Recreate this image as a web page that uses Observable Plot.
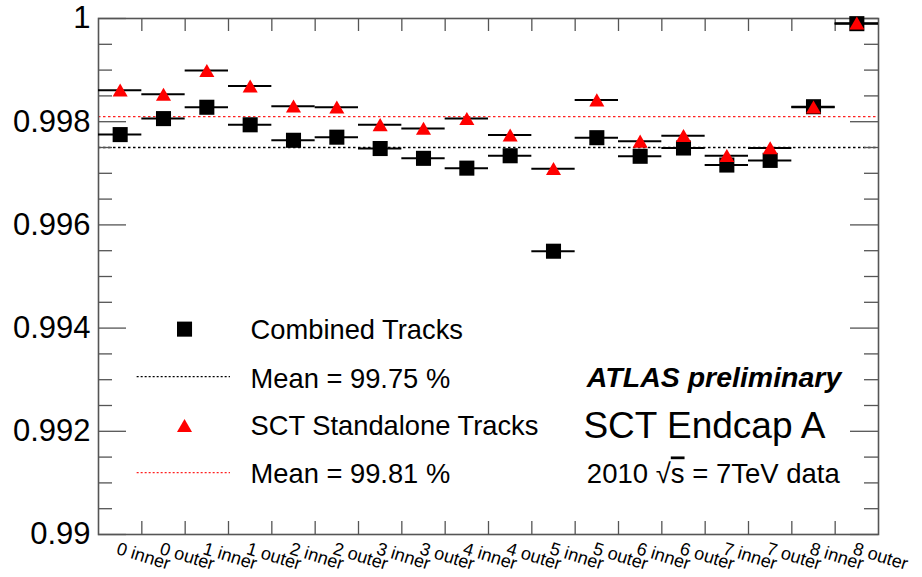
<!DOCTYPE html>
<html>
<head>
<meta charset="utf-8">
<script src="https://cdn.jsdelivr.net/npm/d3@7"></script>
<script src="https://cdn.jsdelivr.net/npm/@observablehq/plot@0.6"></script>
<style>
  body { margin: 0; background: #fff; }
  #chart svg { display: block; }
</style>
</head>
<body>
<div id="chart"></div>
<script>
// SCT Endcap A modules (disk number, inner/outer ring)
const modules = [
  "0 inner", "0 outer", "1 inner", "1 outer", "2 inner", "2 outer",
  "3 inner", "3 outer", "4 inner", "4 outer", "5 inner", "5 outer",
  "6 inner", "6 outer", "7 inner", "7 outer", "8 inner", "8 outer"
];

// Hit efficiency per module
const combinedTracks = [
  0.99775, 0.99806, 0.99828, 0.99794, 0.99764, 0.99770,
  0.99748, 0.99729, 0.99710, 0.99734, 0.99549, 0.99769,
  0.99733, 0.99749, 0.99716, 0.99725, 0.99829, 0.99990
];
const standaloneTracks = [
  0.99861, 0.99853, 0.99899, 0.99869, 0.99830, 0.99828,
  0.99794, 0.99787, 0.99806, 0.99774, 0.99709, 0.99842,
  0.99762, 0.99773, 0.99734, 0.99749, 0.99828, 0.99991
];

// Means quoted in the legend
const meanCombined = 0.9975;
const meanStandalone = 0.9981;

// Axis ticks
const yMajorTicks = [0.99, 0.992, 0.994, 0.996, 0.998, 1];
const yMinorTicks = d3.range(0, 21).filter(k => k % 4 !== 0).map(k => 0.99 + k * 0.0005);
const xTicks = d3.range(1, modules.length);

const W = 922, H = 577;
const mL = 98, mR = 44, mT = 18, mB = 43;
const innerW = W - mL - mR, innerH = H - mT - mB;

const rows = modules.map((m, i) => ({
  i, module: m, combined: combinedTracks[i], standalone: standaloneTracks[i]
}));

const axisGray = "#555";
const font = "'Liberation Sans', Arial, Helvetica, sans-serif";

const chart = Plot.plot({
  width: W,
  height: H,
  marginLeft: mL,
  marginRight: mR,
  marginTop: mT,
  marginBottom: mB,
  style: { fontFamily: font, background: "white", color: "black" },
  x: { domain: [0, modules.length], axis: null },
  y: { domain: [0.99, 1] },
  marks: [
    // mean lines
    Plot.ruleY([meanCombined], { stroke: "black", strokeWidth: 1.3, strokeDasharray: "2.5,2.5" }),
    Plot.ruleY([meanStandalone], { stroke: "#ff2020", strokeWidth: 1.3, strokeDasharray: "2.5,2.5" }),

    // inward tick marks on all four sides
    Plot.tickY(yMinorTicks, { y: d => d, stroke: axisGray, strokeWidth: 1.3, insetRight: innerW - 14 }),
    Plot.tickY(yMajorTicks, { y: d => d, stroke: axisGray, strokeWidth: 1.3, insetRight: innerW - 28 }),
    Plot.tickY(yMinorTicks, { y: d => d, stroke: axisGray, strokeWidth: 1.3, insetLeft: innerW - 14 }),
    Plot.tickY(yMajorTicks, { y: d => d, stroke: axisGray, strokeWidth: 1.3, insetLeft: innerW - 28 }),
    Plot.tickX(xTicks, { x: d => d, stroke: axisGray, strokeWidth: 1.3, insetTop: innerH - 13 }),
    Plot.tickX(xTicks, { x: d => d, stroke: axisGray, strokeWidth: 1.3, insetBottom: innerH - 13 }),
    Plot.frame({ stroke: axisGray, strokeWidth: 1.6 }),

    // y tick labels
    Plot.axisY(yMajorTicks, {
      tickSize: 0, tickPadding: 8, fontSize: 31,
      tickFormat: d => String(+d.toFixed(3)), label: null
    }),

    // module labels, rotated
    Plot.text(rows, {
      x: d => d.i + 0.5, frameAnchor: "bottom", text: "module",
      rotate: 17, textAnchor: "start", lineAnchor: "top",
      dx: -1, dy: 7, fontSize: 18, fill: "black"
    }),

    // horizontal bin-width bars
    Plot.ruleY(rows, { x1: "i", x2: d => d.i + 1, y: "combined", stroke: "black", strokeWidth: 2 }),
    Plot.ruleY(rows, { x1: "i", x2: d => d.i + 1, y: "standalone", stroke: "black", strokeWidth: 2 }),

    // markers
    Plot.dot(rows, { x: d => d.i + 0.5, y: "combined", symbol: "square", r: 8.5, fill: "black", stroke: "none" }),
    Plot.dot(rows, { x: d => d.i + 0.5, y: "standalone", symbol: "triangle", r: 5.6, dy: 2, fill: "#ff0000", stroke: "none" }),

    // legend
    Plot.dot([0], { x: 1.985, y: 0.99398, symbol: "square", r: 8.5, fill: "black", stroke: "none" }),
    Plot.text(["Combined Tracks"], { x: 3.51, y: 0.99396, text: d => d, textAnchor: "start", fontSize: 27.3 }),
    Plot.ruleY([0.99306], { x1: 0.892, x2: 3.046, stroke: "black", strokeWidth: 1.2, strokeDasharray: "2,2" }),
    Plot.text([`Mean = ${(meanCombined * 100).toFixed(2)} %`], { x: 3.51, y: 0.99300, text: d => d, textAnchor: "start", fontSize: 27.3 }),
    Plot.dot([0], { x: 1.985, y: 0.99211, symbol: "triangle", r: 5.6, dy: 2, fill: "#ff0000", stroke: "none" }),
    Plot.text(["SCT Standalone Tracks"], { x: 3.51, y: 0.99210, text: d => d, textAnchor: "start", fontSize: 27.3 }),
    Plot.ruleY([0.99120], { x1: 0.892, x2: 3.046, stroke: "#ff2020", strokeWidth: 1.2, strokeDasharray: "2,2" }),
    Plot.text([`Mean = ${(meanStandalone * 100).toFixed(2)} %`], { x: 3.51, y: 0.99117, text: d => d, textAnchor: "start", fontSize: 27.3 }),

    // labels
    Plot.text(["ATLAS preliminary"], { x: 11.27, y: 0.99303, text: d => d, textAnchor: "start", fontSize: 28.5, fontWeight: "bold", fontStyle: "italic" }),
    Plot.text(["SCT Endcap A"], { x: 11.19, y: 0.99210, text: d => d, textAnchor: "start", fontSize: 37 }),
    Plot.text(["2010 \u221As = 7TeV data"], { x: 11.27, y: 0.99116, text: d => d, textAnchor: "start", fontSize: 27.5 })
  ]
});

// overline the s under the radical
d3.select(chart).selectAll("text").each(function () {
  const t = d3.select(this);
  if (t.text() === "2010 \u221As = 7TeV data") {
    t.text(null);
    t.append("tspan").text("2010 \u221A");
    t.append("tspan").style("text-decoration", "overline").text("s");
    t.append("tspan").text(" = 7TeV data");
  }
});

document.getElementById("chart").append(chart);
</script>
</body>
</html>
